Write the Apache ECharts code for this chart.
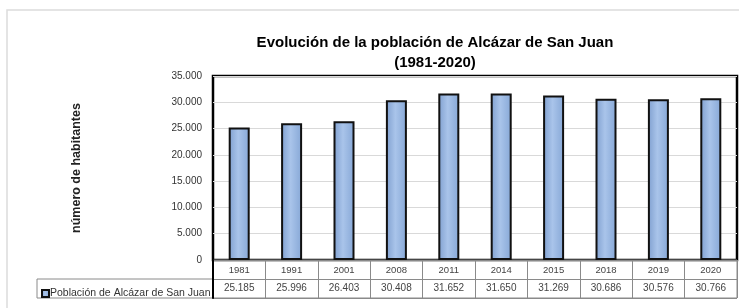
<!DOCTYPE html>
<html>
<head>
<meta charset="utf-8">
<script src="https://cdn.jsdelivr.net/npm/echarts@6/dist/echarts.min.js"></script>
<style>
  html, body { margin: 0; padding: 0; background: #fff; }
  #chart { width: 739px; height: 308px; }
</style>
</head>
<body>
<div id="chart"></div>
<script>
const years = ['1981', '1991', '2001', '2008', '2011', '2014', '2015', '2018', '2019', '2020'];
const population = [25185, 25996, 26403, 30408, 31652, 31650, 31269, 30686, 30576, 30766];
const yTicks = [0, 5000, 10000, 15000, 20000, 25000, 30000, 35000];
const seriesName = 'Población de Alcázar de San Juan';

// 25185 -> "25.185"
function fmt(v) {
  return String(v).replace(/\B(?=(\d{3})+(?!\d))/g, '.');
}
const valueLabels = population.map(fmt);

const chart = echarts.init(document.getElementById('chart'));

chart.setOption({
  animation: false,
  textStyle: { fontFamily: 'Liberation Sans, Arial, sans-serif' },
  title: {
    text: 'Evolución de la población de Alcázar de San Juan\n(1981-2020)',
    left: 430,
    top: 28,
    textAlign: 'center',
    textStyle: {
      fontFamily: 'Liberation Sans Narrow, Liberation Sans, Arial, sans-serif',
      fontSize: 15,
      fontWeight: 'bold',
      color: '#000',
      lineHeight: 20
    }
  },
  legend: {
    left: 36,
    top: 283,
    itemWidth: 7,
    itemHeight: 7,
    itemGap: 2,
    icon: 'rect',
    selectedMode: false,
    textStyle: { fontSize: 10.5, color: '#333', padding: [0, 0, 0, -4] },
    data: [seriesName]
  },
  graphic: [
    { type: 'rect', shape: { x: 7, y: 10, width: 800, height: 400 },
      style: { fill: 'none', stroke: '#dcdcdc', lineWidth: 1.5 }, silent: true },
    { type: 'rect', shape: { x: 37, y: 279, width: 176, height: 19 },
      style: { fill: 'none', stroke: '#8a8a8a', lineWidth: 1 }, silent: true }
  ],
  grid: [
    { left: 213, right: 2, top: 76, height: 184, show: true,
      borderColor: '#000', borderWidth: 2.5 },
    { left: 213, right: 2, top: 260, height: 38, show: true,
      borderColor: '#8a8a8a', borderWidth: 1 }
  ],
  xAxis: [
    {
      gridIndex: 0,
      type: 'category',
      data: years,
      axisLine: { show: false },
      axisTick: { show: false },
      axisLabel: { show: false }
    },
    {
      gridIndex: 1,
      type: 'category',
      data: years,
      position: 'top',
      axisLine: { show: false },
      axisTick: { show: false },
      splitLine: { show: true, lineStyle: { color: '#8a8a8a', width: 1 } },
      axisLabel: { inside: true, margin: 5, fontSize: 9.5, color: '#444' }
    },
    {
      gridIndex: 1,
      type: 'category',
      data: valueLabels,
      position: 'bottom',
      axisLine: { show: false },
      axisTick: { show: false },
      axisLabel: { inside: true, margin: 5, fontSize: 10, color: '#444' }
    }
  ],
  yAxis: [
    {
      gridIndex: 0,
      type: 'value',
      min: yTicks[0],
      max: yTicks[yTicks.length - 1],
      interval: yTicks[1] - yTicks[0],
      name: 'número de habitantes',
      nameLocation: 'middle',
      nameGap: 130,
      nameTextStyle: { fontSize: 12.5, fontWeight: 'bold', color: '#222' },
      axisLine: { show: false },
      axisTick: { show: false },
      axisLabel: { margin: 11, fontSize: 10, color: '#333', formatter: fmt },
      splitLine: { lineStyle: { color: '#d9d9d9', width: 1 } }
    },
    {
      gridIndex: 1,
      type: 'value',
      min: 0,
      max: 2,
      interval: 1,
      axisLine: { show: true, lineStyle: { color: '#000', width: 2 } },
      axisTick: { show: false },
      axisLabel: { show: false },
      splitLine: { show: true, lineStyle: { color: '#8a8a8a', width: 1 } }
    }
  ],
  series: [
    {
      name: seriesName,
      type: 'bar',
      xAxisIndex: 0,
      yAxisIndex: 0,
      data: population,
      barWidth: 21,
      itemStyle: {
        color: new echarts.graphic.LinearGradient(0, 0, 1, 0, [
          { offset: 0, color: '#7f9fcf' },
          { offset: 0.45, color: '#a9c4ea' },
          { offset: 1, color: '#86a7d6' }
        ]),
        borderColor: '#111',
        borderWidth: 2
      }
    }
  ]
});
</script>
</body>
</html>
